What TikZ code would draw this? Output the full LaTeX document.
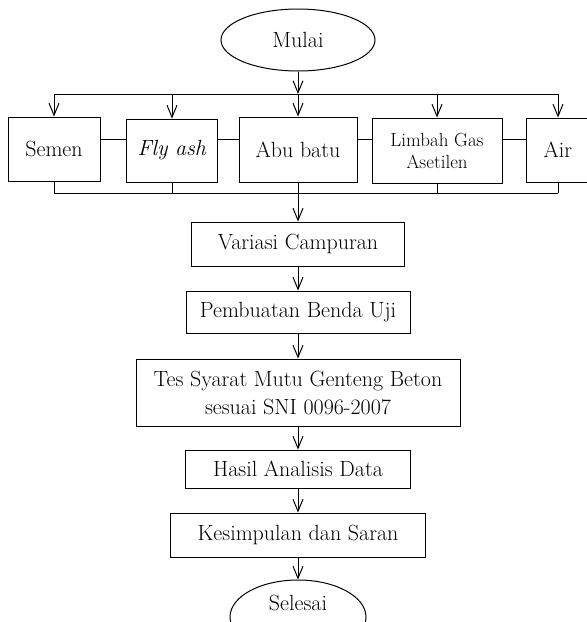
\documentclass[tikz,border=0pt]{standalone}
\usetikzlibrary{shapes.geometric,arrows.meta}

\begin{document}
\begin{tikzpicture}[x=1pt, y=-1pt, line width=1pt,
    every node/.style = {font=\fontsize{22}{28}\selectfont},
    box/.style  = {draw, rectangle, inner sep=0pt, align=center},
    oval/.style = {draw, ellipse, inner sep=0pt},
    small/.style = {font=\fontsize{19}{22}\selectfont},
    arr/.style  = {-{Straight Barb[length=12pt,width=10pt]}}]
  \useasboundingbox (0,0) rectangle (587,622);

  \node[oval, minimum width=154pt, minimum height=62pt] (mulai) at (298,40) {Mulai};

  % bahan
  \node[box, minimum width=92pt, minimum height=64pt] (semen) at (54,149) {Semen};
  \node[box, minimum width=91pt, minimum height=63pt] (flyash) at (172,150.5) {\textit{Fly ash}};
  \node[box, minimum width=118pt, minimum height=65pt] (abubatu) at (298,149.5) {Abu batu};
  \node[box, small, minimum width=130pt, minimum height=65pt] (limbah) at (437,150.5) {Limbah Gas\\Asetilen};
  \node[box, minimum width=64pt, minimum height=64pt] (air) at (558,150) {Air};

  \coordinate (topbus) at (298,94);
  \coordinate (botbus) at (298,193);
  \coordinate (side) at (0,139);

  \draw[arr] (mulai) -- (topbus);
  \draw (semen.north |- topbus) -- (air.north |- topbus);
  \foreach \n in {semen,flyash,abubatu,limbah,air}
    \draw[arr] (\n.north |- topbus) -- (\n.north);
  \draw (semen.east |- side) -- (flyash.west |- side);
  \draw (flyash.east |- side) -- (abubatu.west |- side);
  \draw (abubatu.east |- side) -- (limbah.west |- side);
  \draw (limbah.east |- side) -- (air.west |- side);
  \draw (semen.south |- botbus) -- (air.south |- botbus);
  \foreach \n in {semen,flyash,abubatu,limbah,air}
    \draw (\n.south) -- (\n.south |- botbus);

  % tahapan
  \node[box, minimum width=213pt, minimum height=44pt] (variasi) at (298,244) {Variasi Campuran};
  \node[box, minimum width=224pt, minimum height=42pt] (bendauji) at (298,312) {Pembuatan Benda Uji};
  \node[box, minimum width=324pt, minimum height=67pt] (tes) at (298,392.5) {Tes Syarat Mutu Genteng Beton\\sesuai SNI 0096-2007};
  \node[box, minimum width=225pt, minimum height=38pt] (hasil) at (298,469) {Hasil Analisis Data};
  \node[box, minimum width=255pt, minimum height=44pt] (simpulan) at (298,535) {Kesimpulan dan Saran};
  \node[oval, minimum width=136pt, minimum height=74pt,
        label={[yshift=14pt]center:Selesai}] (selesai) at (298,617) {};

  \draw[arr] (botbus) -- (variasi);
  \draw[arr] (variasi) -- (bendauji);
  \draw[arr] (bendauji) -- (tes);
  \draw[arr] (tes) -- (hasil);
  \draw[arr] (hasil) -- (simpulan);
  \draw[arr] (simpulan) -- (selesai);
\end{tikzpicture}
\end{document}
